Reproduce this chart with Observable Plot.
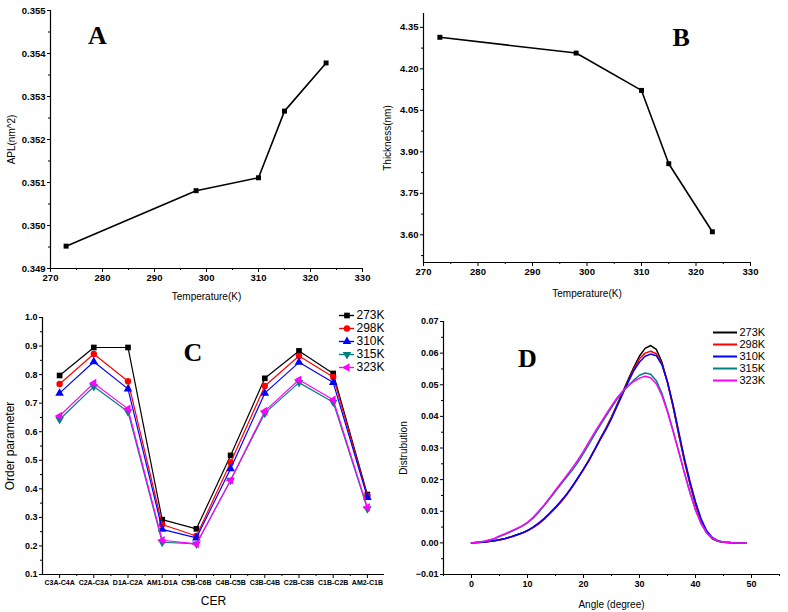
<!DOCTYPE html>
<html><head><meta charset="utf-8">
<script src="https://cdn.jsdelivr.net/npm/d3@7"></script>
<script src="https://cdn.jsdelivr.net/npm/@observablehq/plot@0.6"></script>
<style>
html,body{margin:0;padding:0;background:#fff;}
body{width:788px;height:612px;position:relative;overflow:hidden;font-family:"Liberation Sans",Arial,sans-serif;}
.panel{position:absolute;}
.panel svg{background:transparent !important;overflow:visible;max-width:none !important;}
g[aria-label$="tick label"] text{font-weight:bold;}
g[aria-label$="axis label"] text{font-weight:normal;font-size:10px;}
#C g[aria-label$="axis label"] text{font-size:12px;}
#C g[aria-label="x-axis tick label"] text{font-size:7px;}
</style>
</head><body>
<div id="A" class="panel" style="left:0;top:0;width:376px;height:300px"></div>
<div id="B" class="panel" style="left:376px;top:0;width:412px;height:300px"></div>
<div id="C" class="panel" style="left:0;top:300px;width:394px;height:312px"></div>
<div id="D" class="panel" style="left:394px;top:300px;width:394px;height:312px"></div>
<div id="LC" class="panel" style="left:330px;top:305px;width:70px;height:75px"></div>
<div id="LD" class="panel" style="left:705px;top:320px;width:80px;height:70px"></div>
<script>
// ---------- data ----------
const tempsK = [273, 298, 310, 315, 323];
const aplValues = [0.34952, 0.35081, 0.35111, 0.35266, 0.35378];
const thicknessValues = [4.314, 4.257, 4.122, 3.857, 3.611];

const tempTicks = [270, 280, 290, 300, 310, 320, 330];
const tempMinorTicks = [275, 285, 295, 305, 315, 325];
const aplTicks = [0.349, 0.350, 0.351, 0.352, 0.353, 0.354, 0.355];
const aplMinorTicks = [0.3495, 0.3505, 0.3515, 0.3525, 0.3535, 0.3545];
const thickTicks = [3.60, 3.75, 3.90, 4.05, 4.20, 4.35];
const thickMinorTicks = [3.525, 3.675, 3.825, 3.975, 4.125, 4.275];

const cerCategories = ["C3A-C4A","C2A-C3A","D1A-C2A","AM1-D1A","C5B-C6B","C4B-C5B","C3B-C4B","C2B-C3B","C1B-C2B","AM2-C1B"];
const order273 = [0.797, 0.895, 0.895, 0.292, 0.260, 0.517, 0.787, 0.883, 0.804, 0.380];
const order298 = [0.767, 0.872, 0.777, 0.275, 0.235, 0.492, 0.760, 0.865, 0.792, 0.375];
const order310 = [0.735, 0.845, 0.750, 0.258, 0.228, 0.470, 0.735, 0.843, 0.772, 0.370];
const order315 = [0.643, 0.758, 0.670, 0.213, 0.207, 0.430, 0.665, 0.772, 0.703, 0.330];
const order323 = [0.655, 0.770, 0.680, 0.220, 0.207, 0.430, 0.672, 0.782, 0.712, 0.335];
const orderTicks = [0.1,0.2,0.3,0.4,0.5,0.6,0.7,0.8,0.9,1.0];
const orderMinorTicks = [0.15,0.25,0.35,0.45,0.55,0.65,0.75,0.85,0.95];
const cerTickIndex = [0,1,2,3,4,5,6,7,8,9];
const cerMinorIndex = [0.5,1.5,2.5,3.5,4.5,5.5,6.5,7.5,8.5];

const angles = [0,1,2,3,4,5,6,7,8,9,10,11,12,13,14,15,16,17,18,19,20,21,22,23,24,25,26,27,28,29,30,31,32,33,34,35,36,37,38,39,40,41,42,43,44,45,46,47,48,49];
const dist273 = [0,.0001,.0002,.0004,.0007,.0010,.0014,.0019,.0025,.0031,.0039,.0049,.0061,.0076,.0093,.0111,.0131,.0153,.0178,.0205,.0233,.0263,.0296,.0330,.0362,.0398,.0437,.0477,.0517,.0556,.0591,.0615,.0624,.0612,.0572,.0507,.0430,.0343,.0260,.0187,.0122,.0068,.0032,.0013,.0005,.0002,.0001,0,0,0];
const dist298 = [0,.0001,.0002,.0004,.0006,.0009,.0013,.0018,.0024,.0030,.0038,.0048,.0060,.0075,.0092,.0110,.0130,.0152,.0177,.0204,.0232,.0262,.0295,.0329,.0361,.0397,.0435,.0474,.0512,.0550,.0582,.0600,.0606,.0598,.0566,.0508,.0433,.0347,.0264,.0190,.0125,.0071,.0035,.0015,.0006,.0002,.0001,0,0,0];
const dist310 = [0,.0001,.0002,.0004,.0007,.0010,.0014,.0019,.0025,.0031,.0039,.0050,.0063,.0078,.0095,.0113,.0133,.0154,.0179,.0206,.0233,.0261,.0294,.0327,.0358,.0393,.0432,.0471,.0509,.0545,.0572,.0590,.0597,.0592,.0563,.0509,.0436,.0352,.0269,.0195,.0130,.0076,.0038,.0017,.0007,.0002,.0001,0,0,0];
const dist315 = [0,.0002,.0004,.0008,.0012,.0020,.0027,.0035,.0043,.0052,.0063,.0078,.0097,.0118,.0140,.0163,.0186,.0208,.0230,.0255,.0283,.0313,.0343,.0372,.0400,.0428,.0455,.0477,.0497,.0515,.0530,.0537,.0533,.0513,.0473,.0418,.0355,.0290,.0223,.0160,.0104,.0061,.0032,.0015,.0006,.0002,.0001,0,0,0];
const dist323 = [0,.0002,.0004,.0008,.0013,.0022,.0029,.0037,.0045,.0054,.0065,.0081,.0100,.0121,.0144,.0167,.0190,.0213,.0237,.0262,.0290,.0320,.0350,.0378,.0406,.0433,.0459,.0480,.0497,.0511,.0521,.0527,.0522,.0503,.0466,.0414,.0352,.0288,.0222,.0160,.0104,.0061,.0032,.0015,.0006,.0002,.0001,0,0,0];
const angleTicks = [0,10,20,30,40,50];
const angleMinorTicks = [-5,5,15,25,35,45,55];
const distTicks = [-0.01,0.00,0.01,0.02,0.03,0.04,0.05,0.06,0.07];
const distMinorTicks = [-0.005,0.005,0.015,0.025,0.035,0.045,0.055,0.065];

const seriesNames = ["273K","298K","310K","315K","323K"];
const seriesColors = ["#000000","#ff0000","#0000ff","#008080","#ff00ff"];
const seriesSymbols = ["square","circle","triangle","triangle","triangle"];
const seriesRotate = [0,0,0,180,-90];

const panelLetters = [
  {t:"A", x:279, y:0.35442},
  {t:"B", x:317.3, y:4.313},
  {t:"C", x:3.9, y:0.877},
  {t:"D", x:10.0, y:0.0583}
];

// ---------- helpers ----------
const FONT = '"Liberation Sans", Arial, sans-serif';
function axes(o){
  return [
    Plot.axisX({ticks:o.xTicks, tickSize:4, tickPadding:2, tickFormat:o.xFormat, label:o.xLabel, labelAnchor:"center", labelOffset:o.xLabelOffset, labelArrow:"none"}),
    Plot.axisX({ticks:o.xMinor, tickSize:2, tickFormat:()=>"", label:null}),
    Plot.axisY({ticks:o.yTicks, tickSize:3, tickPadding:2, tickFormat:o.yFormat, label:o.yLabel, labelAnchor:"center", labelOffset:o.yLabelOffset, labelArrow:"none"}),
    Plot.axisY({ticks:o.yMinor, tickSize:2, tickFormat:()=>"", label:null}),
    Plot.ruleX([o.xDomain[0]], {stroke:"#000", strokeWidth:1.2}),
    Plot.ruleY([o.yDomain[0]], {stroke:"#000", strokeWidth:1.2})
  ];
}
function letter(i){
  return Plot.text([panelLetters[i]], {x:"x", y:"y", text:"t", fontFamily:'"Liberation Serif", "Times New Roman", serif', fontWeight:"bold", fontSize:26, fill:"#000"});
}

// ---------- Panel A ----------
const dataA = tempsK.map((t,i)=>({t, v:aplValues[i]}));
const plotA = Plot.plot({
  width:376, height:300, marginLeft:50, marginRight:14, marginTop:10, marginBottom:32,
  style:{fontFamily:FONT, fontSize:"9.5px", background:"transparent", color:"#000"},
  x:{domain:[270,330]}, y:{domain:[0.349,0.355]},
  marks:[
    ...axes({xTicks:tempTicks, xMinor:tempMinorTicks, xFormat:d3.format("d"), xLabel:"Temperature(K)", xLabelOffset:31,
             yTicks:aplTicks, yMinor:aplMinorTicks, yFormat:d3.format(".3f"), yLabel:"APL(nm^2)", yLabelOffset:43,
             xDomain:[270,330], yDomain:[0.349,0.355]}),
    Plot.line(dataA, {x:"t", y:"v", stroke:"#000", strokeWidth:1.6}),
    Plot.dot(dataA, {x:"t", y:"v", symbol:"square", fill:"#000", r:2.8}),
    letter(0)
  ]
});
document.getElementById("A").append(plotA);

// ---------- Panel B ----------
const dataB = tempsK.map((t,i)=>({t, v:thicknessValues[i]}));
const plotB = Plot.plot({
  width:412, height:300, marginLeft:47, marginRight:38, marginTop:13, marginBottom:38,
  style:{fontFamily:FONT, fontSize:"9.5px", background:"transparent", color:"#000"},
  x:{domain:[270,330]}, y:{domain:[3.5,4.4]},
  marks:[
    ...axes({xTicks:tempTicks, xMinor:tempMinorTicks, xFormat:d3.format("d"), xLabel:"Temperature(K)", xLabelOffset:34,
             yTicks:thickTicks, yMinor:thickMinorTicks, yFormat:d3.format(".2f"), yLabel:"Thickness(nm)", yLabelOffset:40,
             xDomain:[270,330], yDomain:[3.5,4.4]}),
    Plot.line(dataB, {x:"t", y:"v", stroke:"#000", strokeWidth:1.6}),
    Plot.dot(dataB, {x:"t", y:"v", symbol:"square", fill:"#000", r:2.8}),
    letter(1)
  ]
});
document.getElementById("B").append(plotB);

// ---------- Panel C ----------
const orderSeries = [order273, order298, order310, order315, order323];
const marksC = [];
orderSeries.forEach((vals, s) => {
  const rows = cerCategories.map((c,i)=>({i, v:vals[i]}));
  marksC.push(Plot.line(rows, {x:"i", y:"v", stroke:seriesColors[s], strokeWidth:1.2}));
  marksC.push(Plot.dot(rows, {x:"i", y:"v", symbol:seriesSymbols[s], fill:seriesColors[s], rotate:seriesRotate[s], r:3.2}));
});
const plotC = Plot.plot({
  width:394, height:312, marginLeft:42, marginRight:10, marginTop:17, marginBottom:38,
  style:{fontFamily:FONT, fontSize:"9px", background:"transparent", color:"#000"},
  x:{domain:[-0.5,9.5]}, y:{domain:[0.1,1.0]},
  marks:[
    ...axes({xTicks:cerTickIndex, xMinor:cerMinorIndex, xFormat:i=>cerCategories[i], xLabel:"CER", xLabelOffset:30,
             yTicks:orderTicks, yMinor:orderMinorTicks, yFormat:d3.format(".1f"), yLabel:"Order parameter", yLabelOffset:37,
             xDomain:[-0.5,9.5], yDomain:[0.1,1.0]}),
    ...marksC,
    letter(2)
  ]
});
document.getElementById("C").append(plotC);

// ---------- Panel D ----------
const distSeries = [dist273, dist298, dist310, dist315, dist323];
const marksD = distSeries.map((vals, s) =>
  Plot.line(angles.map((a,i)=>({a, v:vals[i]})), {x:"a", y:"v", stroke:seriesColors[s], strokeWidth:1.5})
);
const plotD = Plot.plot({
  width:394, height:312, marginLeft:49, marginRight:9, marginTop:21, marginBottom:38,
  style:{fontFamily:FONT, fontSize:"9px", background:"transparent", color:"#000"},
  x:{domain:[-5,55]}, y:{domain:[-0.01,0.07]},
  marks:[
    ...axes({xTicks:angleTicks, xMinor:angleMinorTicks, xFormat:d3.format("d"), xLabel:"Angle (degree)", xLabelOffset:33,
             yTicks:distTicks, yMinor:distMinorTicks, yFormat:d3.format(".2f"), yLabel:"Distrubution", yLabelOffset:44,
             xDomain:[-5,55], yDomain:[-0.01,0.07]}),
    ...marksD,
    letter(3)
  ]
});
document.getElementById("D").append(plotD);

// ---------- Legends ----------
function legend(o){
  const marks = [];
  seriesNames.forEach((n, s) => {
    const row = [{n}];
    marks.push(Plot.ruleY(row, {y:"n", x1:0, x2:1, stroke:seriesColors[s], strokeWidth:o.sw}));
    if (o.markers) marks.push(Plot.dot(row, {x:0.5, y:"n", symbol:seriesSymbols[s], fill:seriesColors[s], rotate:seriesRotate[s], r:3.2}));
    marks.push(Plot.text(row, {x:1, y:"n", text:"n", textAnchor:"start", dx:2, fontSize:o.fs, fill:"#000"}));
  });
  return Plot.plot({
    width:o.w, height:o.h, marginLeft:0, marginRight:0, marginTop:0, marginBottom:0,
    style:{fontFamily:FONT, background:"transparent", color:"#000"},
    x:{domain:[0,1], range:o.xRange, axis:null},
    y:{type:"point", domain:seriesNames, range:o.yRange, padding:0, axis:null},
    marks
  });
}
document.getElementById("LC").append(legend({w:70, h:75, xRange:[9,24], yRange:[9,63], sw:1.4, markers:true, fs:12}));
document.getElementById("LD").append(legend({w:80, h:70, xRange:[8,32], yRange:[11,60], sw:2, markers:false, fs:11}));
</script>
</body></html>
